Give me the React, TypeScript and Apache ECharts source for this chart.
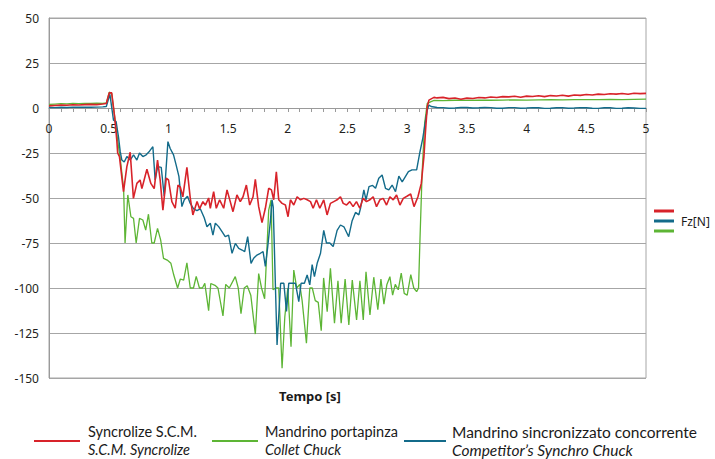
import React, { useEffect, useRef } from "react";
import * as echarts from "echarts";

// [time (s), Fz (N)]
const SYNCROLIZE: [number, number][] = [
  [0, 1.2], [0.05, 1.4], [0.1, 1.6], [0.15, 1.5], [0.2, 1.8], [0.25, 1.7], [0.3, 1.9], [0.35, 2.0], [0.4, 1.9], [0.45, 2.2], [0.48, 2.5],
  [0.505, 8.5], [0.525, 8.4], [0.55, -5], [0.568, -18], [0.575, -25], [0.59, -27], [0.624, -46.5], [0.652, -32.6], [0.68, -24.6],
  [0.707, -50.2], [0.736, -41.9], [0.763, -40], [0.778, -44.8], [0.82, -34], [0.853, -41.9], [0.881, -44.8], [0.909, -28.9],
  [0.931, -40], [0.954, -56.7], [0.982, -39], [1.001, -40], [1.029, -52], [1.057, -55.7], [1.08, -42.8], [1.1, -44], [1.121, -49.4],
  [1.155, -33], [1.183, -50], [1.205, -59.4], [1.24, -52], [1.261, -56], [1.289, -52], [1.31, -54], [1.337, -50], [1.351, -55.7],
  [1.379, -46.5], [1.401, -55.7], [1.429, -51], [1.463, -55.7], [1.491, -45.5], [1.518, -52], [1.541, -57.6], [1.574, -48.3],
  [1.602, -52], [1.625, -49.3], [1.653, -42.8], [1.681, -53.9], [1.709, -49.3], [1.728, -39.6], [1.756, -54.8], [1.784, -63.7],
  [1.812, -55.7], [1.84, -44.6], [1.863, -45.5], [1.882, -51], [1.904, -35.4], [1.924, -51], [1.952, -53], [1.98, -53.9],
  [2.002, -60.4], [2.022, -51], [2.05, -53.9], [2.078, -49.3], [2.106, -51], [2.134, -50.2], [2.162, -51], [2.19, -52],
  [2.212, -55.7], [2.24, -51], [2.268, -55.7], [2.301, -51], [2.329, -59.4], [2.357, -53], [2.385, -52], [2.413, -51],
  [2.441, -49.3], [2.464, -53], [2.492, -53.9], [2.519, -52], [2.547, -54.8], [2.575, -52], [2.603, -55.7], [2.631, -50.2],
  [2.659, -52], [2.687, -51], [2.715, -49.3], [2.743, -54.8], [2.771, -51], [2.799, -50.2], [2.827, -53.9], [2.855, -49.3],
  [2.883, -51], [2.911, -48.3], [2.939, -53.9], [2.967, -50.2], [3.001, -48.9], [3.029, -47.8], [3.057, -54.8], [3.09, -49.3],
  [3.118, -41.9], [3.14, -27], [3.154, -12], [3.168, 0.7], [3.182, 4.4], [3.224, 5.9], [3.25, 5.6], [3.3, 5.9], [3.35, 5.2],
  [3.4, 5.6], [3.45, 4.9], [3.5, 5.5], [3.55, 5.3], [3.6, 5.8], [3.65, 5.6], [3.7, 6.1], [3.75, 5.8], [3.8, 6.3], [3.85, 6.2],
  [3.9, 6.5], [3.95, 6.0], [4.0, 6.6], [4.05, 6.4], [4.1, 6.8], [4.15, 6.3], [4.2, 6.9], [4.25, 6.7], [4.3, 7.1], [4.35, 6.6],
  [4.4, 7.2], [4.45, 7.0], [4.5, 7.5], [4.55, 7.2], [4.6, 7.7], [4.65, 7.5], [4.7, 7.9], [4.75, 7.7], [4.8, 8.1], [4.85, 7.6],
  [4.9, 8.2], [4.95, 8.0], [5.0, 8.1],
];

const COMPETITOR: [number, number][] = [
  [0, 0.3], [0.05, 0.2], [0.1, 0.4], [0.15, 0.3], [0.2, 0.5], [0.25, 0.4], [0.3, 0.5], [0.35, 0.4], [0.4, 0.5], [0.45, 0.6], [0.48, 0.8],
  [0.51, 7.6], [0.54, -6.7], [0.562, -7.6], [0.582, -16], [0.596, -24], [0.61, -28.9], [0.63, -30], [0.652, -27], [0.68, -28.9],
  [0.708, -26], [0.736, -28.9], [0.758, -25], [0.786, -27], [0.814, -26], [0.842, -24], [0.87, -21.5], [0.889, -40], [0.91, -32.6],
  [0.94, -33], [0.965, -49], [0.996, -18.7], [1.015, -22.5], [1.043, -26], [1.065, -31.7], [1.088, -38], [1.113, -54.8],
  [1.133, -51], [1.16, -49], [1.183, -53], [1.211, -56], [1.239, -57], [1.267, -56], [1.3, -61], [1.323, -66], [1.351, -64],
  [1.373, -70.6], [1.393, -64], [1.421, -65.9], [1.449, -68.7], [1.476, -71.5], [1.504, -70.6], [1.533, -80.7], [1.561, -75.2],
  [1.589, -78], [1.617, -78.9], [1.639, -79.8], [1.664, -71.5], [1.692, -86.3], [1.714, -83.5], [1.742, -81.7], [1.77, -80.7],
  [1.793, -79.8], [1.812, -88], [1.832, -77], [1.854, -63], [1.868, -51], [1.878, -55], [1.91, -131.7], [1.94, -97.4],
  [1.967, -97.4], [1.989, -113], [2.008, -97.4], [2.036, -97.4], [2.064, -97.4], [2.092, -107.6], [2.111, -97.4], [2.139, -97.4],
  [2.162, -92.8], [2.184, -98.3], [2.204, -87], [2.223, -93.7], [2.246, -86.3], [2.274, -80.7], [2.301, -68], [2.324, -75],
  [2.352, -75], [2.38, -77], [2.413, -68], [2.441, -65], [2.47, -66], [2.51, -71.5], [2.539, -62.6], [2.567, -58], [2.595, -59.4],
  [2.609, -55.7], [2.637, -45.5], [2.655, -51], [2.68, -43.7], [2.71, -43], [2.735, -44.6], [2.762, -39], [2.79, -37.2],
  [2.818, -44.6], [2.846, -45.5], [2.874, -42.8], [2.902, -46.5], [2.93, -37.8], [2.958, -41], [2.986, -38], [3.01, -35.4],
  [3.04, -34.4], [3.079, -34.4], [3.107, -24.3], [3.13, -17], [3.15, -8.5], [3.168, -1.1], [3.182, 1.7], [3.2, 0.8], [3.25, 0.3],
  [3.3, 0.2], [3.35, -0.1], [3.4, 0], [3.45, 0.3], [3.5, 0.3], [3.55, 0], [3.6, 0.1], [3.65, 0.3], [3.7, 0.2], [3.75, -0.1],
  [3.8, -0.1], [3.85, 0.2], [3.9, 0.2], [3.95, -0.1], [4.0, 0], [4.05, 0.2], [4.1, 0.1], [4.15, -0.2], [4.2, -0.1], [4.25, 0.1],
  [4.3, 0.2], [4.35, -0.1], [4.4, 0], [4.45, 0.2], [4.5, 0.1], [4.55, -0.1], [4.6, -0.2], [4.65, 0.1], [4.7, 0.1], [4.75, -0.2],
  [4.8, -0.1], [4.85, 0.1], [4.9, 0], [4.95, -0.2], [5.0, -0.2],
];

const COLLET: [number, number][] = [
  [0, 2.0], [0.05, 2.2], [0.1, 2.4], [0.15, 2.3], [0.2, 2.5], [0.25, 2.4], [0.3, 2.6], [0.35, 2.5], [0.4, 2.7], [0.45, 2.6], [0.48, 2.8],
  [0.505, 8.8], [0.525, 8], [0.55, -5], [0.575, -18], [0.6, -30], [0.625, -45], [0.637, -75], [0.66, -48.3], [0.686, -60.4],
  [0.708, -61.3], [0.73, -75], [0.758, -61.3], [0.786, -62.2], [0.81, -67.8], [0.833, -59], [0.861, -75], [0.881, -75],
  [0.909, -66.9], [0.935, -73.3], [0.959, -83.5], [0.99, -84.5], [1.021, -86.3], [1.045, -92.8], [1.077, -100], [1.1, -95],
  [1.128, -95.6], [1.155, -86], [1.183, -100], [1.21, -100], [1.233, -93.5], [1.26, -100], [1.285, -100], [1.305, -97.4],
  [1.337, -112.6], [1.355, -97.5], [1.39, -98.5], [1.415, -100], [1.457, -115.5], [1.48, -98], [1.51, -100], [1.56, -93.7],
  [1.585, -100], [1.608, -114.3], [1.635, -100], [1.66, -98.7], [1.69, -104], [1.728, -125.6], [1.756, -92], [1.78, -100],
  [1.806, -106], [1.84, -56.7], [1.86, -51], [1.876, -101], [1.9, -100], [1.924, -100], [1.952, -144.6], [1.975, -116],
  [2.0, -100], [2.027, -132.6], [2.05, -90], [2.075, -100], [2.1, -98], [2.12, -107], [2.156, -130.7], [2.184, -100],
  [2.205, -100], [2.23, -107], [2.255, -108], [2.28, -123.7], [2.3, -94.4], [2.33, -113.2], [2.357, -89], [2.391, -119.6],
  [2.42, -96], [2.447, -119.6], [2.48, -95], [2.511, -120.5], [2.54, -95.6], [2.576, -117.8], [2.604, -96], [2.632, -117.8],
  [2.655, -91], [2.688, -115], [2.72, -94], [2.754, -112], [2.78, -95], [2.805, -109], [2.83, -98], [2.855, -93.7],
  [2.878, -104], [2.9, -98], [2.925, -101], [2.95, -91.7], [2.975, -103], [3.0, -104], [3.03, -92.6], [3.055, -100],
  [3.079, -102], [3.095, -100], [3.107, -73], [3.125, -36], [3.146, -8.5], [3.168, 2.6], [3.2, 3.5], [3.225, 4.2],
  [3.3, 4.1], [3.4, 4.3], [3.5, 4.2], [3.6, 4.4], [3.7, 4.3], [3.8, 4.4], [3.9, 4.5], [4.0, 4.4], [4.1, 4.5], [4.2, 4.6],
  [4.3, 4.5], [4.4, 4.6], [4.5, 4.7], [4.6, 4.6], [4.7, 4.8], [4.8, 4.7], [4.9, 4.8], [5.0, 4.9],
];

const SERIES_NAMES = ["Syncrolize S.C.M.", "Mandrino portapinza", "Mandrino sincronizzato concorrente"];
const SERIES_NAMES_EN = ["S.C.M. Syncrolize", "Collet Chuck", "Competitor’s Synchro Chuck"];
const X_NAME = "Tempo [s]";
const UNIT_LABEL = "Fz[N]";

const RED = "#d8232a";
const GREEN = "#5db535";
const BLUE = "#136b8a";
const FONT = '"Noto Sans", "Open Sans", sans-serif';
const LEGEND_FONT = 'Lato, "Noto Sans", sans-serif';

export default function App() {
  const ref = useRef<HTMLDivElement>(null);
  useEffect(() => {
    if (!ref.current) return;
    const chart = echarts.init(ref.current, null, { renderer: "svg" });
    const legendItems = [
      { color: RED, x1: 34, x2: 80, tx: 88, i: 0, size: 14.5 },
      { color: GREEN, x1: 212, x2: 258, tx: 265, i: 1, size: 14.5 },
      { color: BLUE, x1: 404, x2: 446, tx: 452, i: 2, size: 15.5 },
    ];
    const graphic: any[] = [
      {
        type: "text",
        style: { text: X_NAME, x: 310, y: 396, align: "center", verticalAlign: "middle", font: `bold 13px ${FONT}`, fill: "#1a1a1a" },
      },
      { type: "line", shape: { x1: 654, y1: 211, x2: 674, y2: 211 }, style: { stroke: RED, lineWidth: 3 } },
      { type: "line", shape: { x1: 654, y1: 221, x2: 674, y2: 221 }, style: { stroke: BLUE, lineWidth: 3 } },
      { type: "line", shape: { x1: 654, y1: 231, x2: 674, y2: 231 }, style: { stroke: GREEN, lineWidth: 3 } },
      {
        type: "text",
        style: { text: UNIT_LABEL, x: 681, y: 221, verticalAlign: "middle", font: `12px ${FONT}`, fill: "#1a1a1a" },
      },
    ];
    legendItems.forEach((l) => {
      graphic.push({ type: "line", shape: { x1: l.x1, y1: 441, x2: l.x2, y2: 441 }, style: { stroke: l.color, lineWidth: 2 } });
      graphic.push({
        type: "text",
        style: { text: SERIES_NAMES[l.i], x: l.tx, y: 431.5, verticalAlign: "middle", font: `${l.size}px ${LEGEND_FONT}`, fill: "#1a1a1a" },
      });
      graphic.push({
        type: "text",
        style: { text: SERIES_NAMES_EN[l.i], x: l.tx, y: 449.5, verticalAlign: "middle", font: `italic ${l.size}px ${LEGEND_FONT}`, fill: "#1a1a1a" },
      });
    });

    chart.setOption({
      animation: false,
      backgroundColor: "#ffffff",
      grid: { left: 49, top: 18, width: 597, height: 360, show: true, borderColor: "#a6a6a6", borderWidth: 1, backgroundColor: "transparent" },
      xAxis: {
        type: "value",
        min: 0,
        max: 5,
        interval: 0.5,
        position: "bottom",
        offset: -270,
        axisLine: { show: true, onZero: false, lineStyle: { color: "#9a9a9a", width: 1 } },
        axisTick: { show: true, length: 4, lineStyle: { color: "#9a9a9a" } },
        minorTick: { show: true, splitNumber: 5, length: 4, lineStyle: { color: "#9a9a9a" } },
        axisLabel: { margin: 14, fontSize: 12, color: "#231f20", fontFamily: FONT, formatter: (v: number) => String(v) },
        splitLine: { show: false },
      },
      yAxis: {
        type: "value",
        min: -150,
        max: 50,
        interval: 25,
        axisLine: { show: true, onZero: false, lineStyle: { color: "#9a9a9a" } },
        axisTick: { show: false },
        axisLabel: { margin: 10, fontSize: 12, color: "#231f20", fontFamily: FONT },
        splitLine: { show: true, lineStyle: { color: "#a6a6a6", width: 1.2 } },
      },
      series: [
        { name: SERIES_NAMES[1], type: "line", data: COLLET, showSymbol: false, symbol: "none", lineStyle: { color: GREEN, width: 1.3 }, itemStyle: { color: GREEN } },
        { name: SERIES_NAMES[2], type: "line", data: COMPETITOR, showSymbol: false, symbol: "none", lineStyle: { color: BLUE, width: 1.4 }, itemStyle: { color: BLUE } },
        { name: SERIES_NAMES[0], type: "line", data: SYNCROLIZE, showSymbol: false, symbol: "none", lineStyle: { color: RED, width: 1.6 }, itemStyle: { color: RED } },
      ],
      graphic,
    });
    return () => chart.dispose();
  }, []);
  return <div ref={ref} style={{ position: "fixed", left: 0, top: 0, width: 715, height: 459 }} />;
}
